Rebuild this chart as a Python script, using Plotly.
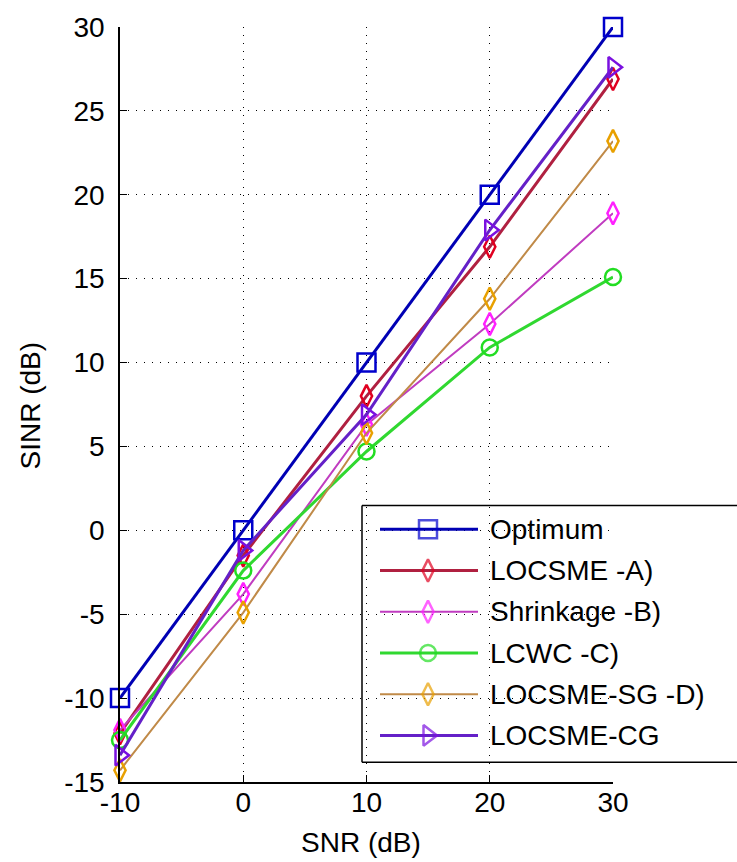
import plotly.graph_objects as go

# ---------------- data ----------------
snr = [-10, 0, 10, 20, 30]
optimum = [-10.0, 0.0, 10.0, 20.0, 30.0]
locsme_a = [-12.1, -1.5, 8.0, 16.9, 26.9]
shrinkage_b = [-11.9, -3.8, 6.3, 12.3, 18.9]
lcwc_c = [-12.5, -2.4, 4.7, 10.9, 15.1]
locsme_sg_d = [-14.3, -4.9, 5.8, 13.8, 23.2]
locsme_cg = [-13.4, -1.2, 6.9, 17.9, 27.6]

series_names = ["Optimum", "LOCSME -A)", "Shrinkage -B)", "LCWC -C)", "LOCSME-SG -D)", "LOCSME-CG"]

x_tick_vals = [-10, 0, 10, 20, 30]
x_tick_text = ["-10", "0", "10", "20", "30"]
y_tick_vals = [-15, -10, -5, 0, 5, 10, 15, 20, 25, 30]
y_tick_text = ["-15", "-10", "-5", "0", "5", "10", "15", "20", "25", "30"]

x_title = "SNR (dB)"
y_title = "SINR (dB)"

# ---------------- styles ----------------
series_values = [optimum, locsme_a, shrinkage_b, lcwc_c, locsme_sg_d, locsme_cg]
line_colors = ["#0000b4", "#b02040", "#c03cc0", "#30d830", "#c08a48", "#6420c8"]
marker_colors = ["#0000cc", "#e00020", "#ff20ff", "#22dd22", "#e8a000", "#7a10e0"]
line_widths = [3, 3, 2, 3, 2, 3]
symbols = ["square-open", "diamond-tall-open", "diamond-tall-open", "circle-open",
           "diamond-tall-open", "triangle-right-open"]
marker_sizes = [18, 16, 16, 16, 16, 18]

FONT = "Liberation Sans, Arial, sans-serif"
W, H = 737, 862
L, R, T, B = 120, 613, 20, 782
XMIN, XMAX, YMIN, YMAX = -10, 30, -15, 30


def px_to_x(px):
    return XMIN + (px - L) / (R - L) * (XMAX - XMIN)


def py_to_y(py):
    return YMAX - (py - T) / (B - T) * (YMAX - YMIN)


def px_to_paper(px):
    return (px - L) / (R - L)


def py_to_paper(py):
    return (B - py) / (B - T)


fig = go.Figure()

for name, vals, lc, mc, lw, sym, ms in zip(series_names, series_values, line_colors,
                                          marker_colors, line_widths, symbols, marker_sizes):
    fig.add_trace(go.Scatter(
        x=snr, y=vals, name=name, mode="lines+markers",
        line=dict(color=lc, width=lw),
        marker=dict(symbol=sym, size=ms, color=mc, line=dict(color=mc, width=2.5)),
        showlegend=False, cliponaxis=False,
    ))

# ---------------- custom legend (MATLAB style, box runs off the right edge) ----------------
leg_left, leg_right, leg_top, leg_bottom = 362, 950, 503, 762
row0, row_gap = 527, 41.6
line_x0, line_x1, mark_x, text_x = 380, 478, 428, 488

lx0, lx1 = px_to_paper(leg_left), px_to_paper(leg_right)
ly0, ly1 = py_to_paper(leg_bottom), py_to_paper(leg_top)
fig.add_shape(type="rect", xref="paper", yref="paper", x0=lx0, x1=lx1, y0=ly0, y1=ly1,
              fillcolor="white", line=dict(width=0), layer="between")
for (ax0, ay0, ax1, ay1) in [(lx0, ly1, lx1, ly1), (lx0, ly0, lx1, ly0), (lx0, ly0, lx0, ly1)]:
    fig.add_shape(type="line", xref="paper", yref="paper", x0=ax0, y0=ay0, x1=ax1, y1=ay1,
                  line=dict(color="black", width=1.5), layer="between")

for i, (name, lc, mc, lw, sym, ms) in enumerate(zip(series_names, line_colors, marker_colors,
                                                    line_widths, symbols, marker_sizes)):
    yy = py_to_y(row0 + i * row_gap)
    fig.add_trace(go.Scatter(
        x=[px_to_x(line_x0), px_to_x(mark_x), px_to_x(line_x1)], y=[yy, yy, yy],
        mode="lines+markers", line=dict(color=lc, width=lw),
        marker=dict(symbol=sym, size=[0, ms, 0], color=mc, line=dict(color=mc, width=2.5)),
        showlegend=False, hoverinfo="skip",
    ))
    fig.add_annotation(x=px_to_x(text_x), y=yy, xref="x", yref="y", text=name,
                       showarrow=False, xanchor="left", yanchor="middle",
                       font=dict(family=FONT, size=28, color="black"))

# axis titles
fig.add_annotation(x=px_to_paper(361), y=py_to_paper(843), xref="paper", yref="paper",
                   text=x_title, showarrow=False, xanchor="center", yanchor="middle",
                   font=dict(family=FONT, size=28, color="black"))
fig.add_annotation(x=px_to_paper(30), y=py_to_paper(402), xref="paper", yref="paper",
                   text=y_title, showarrow=False, textangle=-90, xanchor="center", yanchor="middle",
                   font=dict(family=FONT, size=28, color="black"))

grid = dict(showgrid=True, gridcolor="black", gridwidth=1, griddash="1px,7px")
fig.update_xaxes(range=[XMIN, XMAX], tickvals=x_tick_vals, ticktext=x_tick_text,
                 showline=True, linecolor="black", linewidth=1.5, mirror=False,
                 ticks="inside", ticklen=7, tickcolor="black", tickwidth=1,
                 zeroline=False, ticklabelstandoff=-5,
                 tickfont=dict(family=FONT, size=28, color="black"), **grid)
fig.update_yaxes(range=[YMIN, YMAX], tickvals=y_tick_vals, ticktext=y_tick_text,
                 showline=True, linecolor="black", linewidth=1.5, mirror=False,
                 ticks="inside", ticklen=7, tickcolor="black", tickwidth=1,
                 zeroline=False, ticklabelstandoff=8,
                 tickfont=dict(family=FONT, size=28, color="black"), **grid)

fig.update_layout(width=W, height=H, margin=dict(l=L, r=W - R, t=T, b=H - B),
                  plot_bgcolor="white", paper_bgcolor="white", showlegend=False)

fig.write_html("out.html")
